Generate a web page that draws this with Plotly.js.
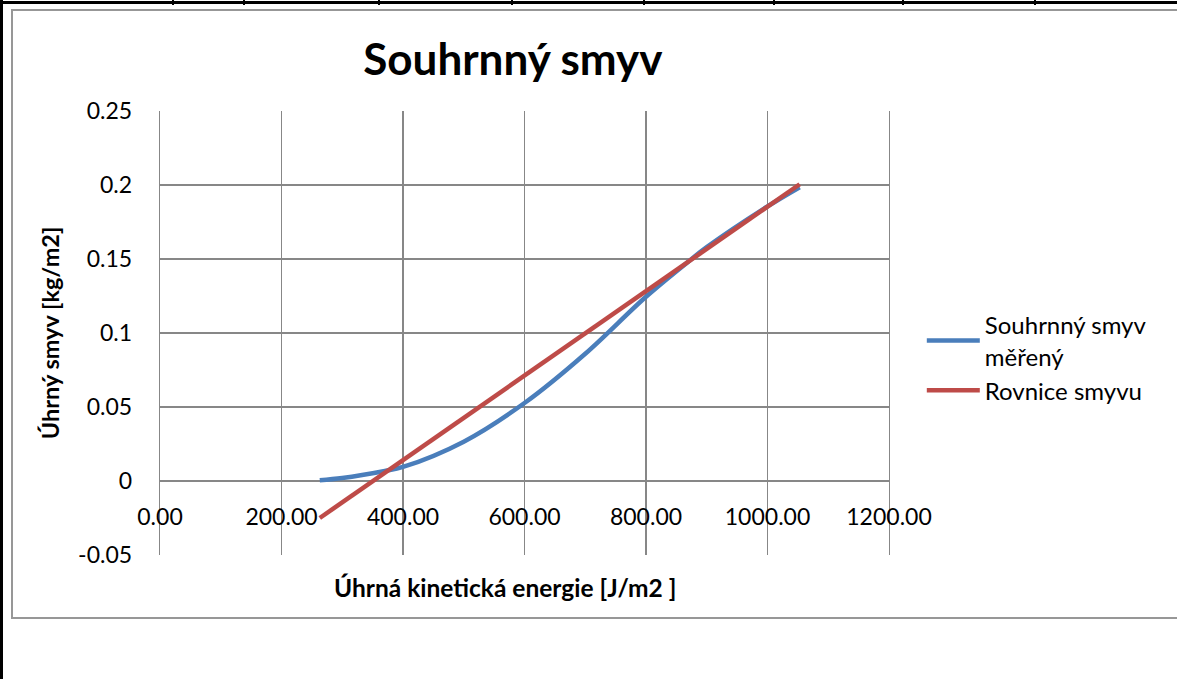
<!DOCTYPE html>
<html>
<head>
<meta charset="utf-8">
<script src="https://cdn.plot.ly/plotly-3.0.1.min.js"></script>
<style>
  html, body { margin: 0; padding: 0; background: #fff; }
  #wrap { position: relative; width: 1177px; height: 679px; overflow: hidden; background: #fff; }
  #topline { position: absolute; left: 0; top: 1px; width: 1177px; height: 3px; background: #000; }
  #leftline { position: absolute; left: 0; top: 0; width: 3px; height: 679px; background: #000; }
  .cell { position: absolute; top: 0; width: 2px; height: 5px; background: #000; }
  #frame { position: absolute; left: 11px; top: 9px; width: 1200px; height: 606px; border: 2px solid #979797; box-sizing: content-box; }
  #chart { position: absolute; left: 0; top: 0; width: 1177px; height: 679px; }
</style>
</head>
<body>
<div id="wrap">
  <div id="topline"></div>
  <div id="leftline"></div>
  <div class="cell" style="left:172px"></div>
  <div class="cell" style="left:243px"></div>
  <div class="cell" style="left:378px"></div>
  <div class="cell" style="left:511px"></div>
  <div class="cell" style="left:643px"></div>
  <div class="cell" style="left:773px"></div>
  <div class="cell" style="left:902px"></div>
  <div class="cell" style="left:1034px"></div>
  <div id="frame"></div>
  <div id="chart"></div>
</div>
<script>
// Data
const measuredX = [263, 300, 370, 400, 500, 600, 700, 800, 872, 900, 1000, 1053];
const measuredY = [0.0005, 0.002, 0.0068, 0.0095, 0.0266, 0.0527, 0.086, 0.1245, 0.149, 0.158, 0.1855, 0.1985];
const equationX = [263, 1053];
const equationY = [-0.025, 0.2005];

const xTickVals = [0, 200, 400, 600, 800, 1000, 1200];
const xTickText = ["0.00", "200.00", "400.00", "600.00", "800.00", "1000.00", "1200.00"];
const yTickVals = [-0.05, 0, 0.05, 0.1, 0.15, 0.2, 0.25];
const yTickText = ["-0.05", "0", "0.05", "0.1", "0.15", "0.2", "0.25"];

const seriesNames = ["Souhrnný smyv<br>měřený", "Rovnice smyvu"];
const chartTitle = "Souhrnný smyv";
const xTitle = "Úhrná kinetická energie [J/m2 ]";
const yTitle = "Úhrný smyv [kg/m2]";

const xRange = [0, 1200];
const yRange = [-0.05, 0.25];

const FONT = "Lato, 'Open Sans', sans-serif";
const GRID = "#878787";

const traces = [
  {
    x: measuredX, y: measuredY, name: seriesNames[0], mode: "lines", type: "scatter",
    line: { color: "#4A7EBB", width: 4.5, shape: "spline", smoothing: 1 }
  },
  {
    x: equationX, y: equationY, name: seriesNames[1], mode: "lines", type: "scatter",
    line: { color: "#BE4B48", width: 4.5 }
  }
];

const layout = {
  width: 1177, height: 679,
  paper_bgcolor: "rgba(0,0,0,0)", plot_bgcolor: "rgba(0,0,0,0)",
  margin: { l: 160, r: 288, t: 111, b: 124, pad: 0 },
  font: { family: FONT, color: "#000", size: 23 },
  title: {
    text: "<b>" + chartTitle + "</b>",
    font: { family: FONT, size: 44, color: "#000" },
    xref: "paper", x: 0.484, xanchor: "center",
    yref: "container", y: 0.912, yanchor: "middle"
  },
  showlegend: true,
  legend: {
    x: 1.045, xanchor: "left", y: 0.444, yanchor: "middle",
    font: { family: FONT, size: 24, color: "#000" },
    bgcolor: "rgba(0,0,0,0)", tracegroupgap: 8, itemwidth: 53
  },
  annotations: [
    {
      text: "<b>" + xTitle + "</b>", showarrow: false,
      xref: "paper", yref: "paper", x: 0.473, y: -0.074,
      xanchor: "center", yanchor: "middle",
      font: { family: FONT, size: 24.5, color: "#000" }
    }
  ],
  xaxis: {
    range: xRange, tickvals: xTickVals, ticktext: xTickText,
    showgrid: true, gridcolor: GRID, gridwidth: 1.3,
    zeroline: false, showline: false,
    anchor: "free",
    position: (0 - yRange[0]) / (yRange[1] - yRange[0]),
    ticks: "", ticklabelstandoff: 20,
    tickfont: { family: FONT, size: 23, color: "#000" },
    automargin: false
  },
  yaxis: {
    range: yRange, tickvals: yTickVals, ticktext: yTickText,
    showgrid: true, gridcolor: GRID, gridwidth: 1.3,
    zeroline: false, showline: true, linecolor: GRID, linewidth: 1.3, mirror: true,
    ticks: "", ticklabelstandoff: 22,
    tickfont: { family: FONT, size: 23, color: "#000" },
    automargin: false,
    title: { text: "<b>" + yTitle + "</b>", font: { family: FONT, size: 23.5, color: "#000" }, standoff: 12 }
  }
};

Plotly.newPlot("chart", traces, layout, { displayModeBar: false, staticPlot: true });
</script>
</body>
</html>
